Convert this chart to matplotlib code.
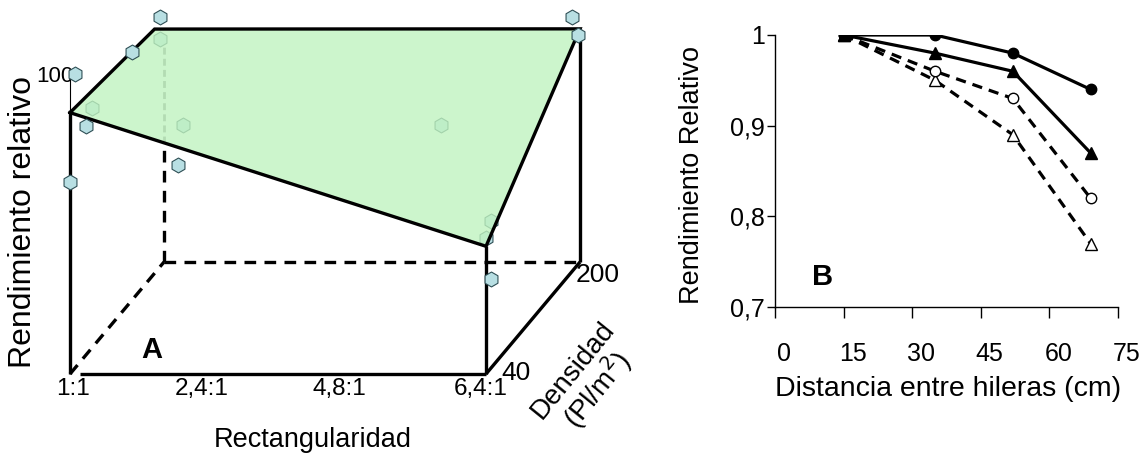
import matplotlib
matplotlib.use('Agg')
import matplotlib.pyplot as plt
from matplotlib.patches import Polygon
import matplotlib.transforms as mtransforms

plt.rcParams['font.family'] = ['Liberation Sans', 'DejaVu Sans']

# ----------------------------
# DATA
# ----------------------------
# panel A (schematic yield surface)
rect_labels = ['1:1', '2,4:1', '4,8:1', '6,4:1']
rect_frac = [0.0, 0.31, 0.64, 0.98]        # position along rectangularity axis
dens_labels = ['40', '200']
# surface corners: front-left, front-right, back-right, back-left
surf_r = [0, 1, 1, 0]
surf_d = [0, 0, 1, 0.9]
surf_yield = [88, 43, 78.5, 82.2]           # relative yield (schematic)

# editor handles visible in the original picture (pixel space)
handles_top = [(160, 17), (132, 52), (75, 74), (86, 126), (178, 165), (70, 182),
               (572, 17), (578, 35), (491, 279)]
handles_under = [(160, 39), (92, 108), (183, 125), (441, 125), (491, 221), (486, 238)]

# panel B
dist = [15, 35, 52, 69]
rr_circ_filled = [1.0, 1.0, 0.98, 0.94]
rr_tri_filled = [1.0, 0.98, 0.96, 0.87]
rr_circ_open = [1.0, 0.96, 0.93, 0.82]
rr_tri_open = [1.0, 0.95, 0.89, 0.77]
x_ticks = [0, 15, 30, 45, 60, 75]
y_ticks = [0.7, 0.8, 0.9, 1.0]
y_ticklabels = ['0,7', '0,8', '0,9', '1']

# ----------------------------
W, H = 1147, 459
fig = plt.figure(figsize=(W / 100, H / 100), dpi=100)

# ---- panel A: drawn in pixel coordinates ----
axA = fig.add_axes([0, 0, 1, 1])
axA.set_xlim(0, W)
axA.set_ylim(H, 0)
axA.axis('off')

X0, Y0 = 70, 374        # origin (1:1, 40)
RW = 416                # length of rectangularity axis
DX, DY = 94, -112       # density axis offset
PX = 2.97               # pixels per yield unit


def proj(r, d, z=0):
    return X0 + r * RW + d * DX, Y0 + d * DY - z * PX


lw = 2.4
blk = dict(color='black', lw=lw, solid_capstyle='butt')
dsh = dict(color='black', lw=lw, ls=(0, (3.5, 2.5)))

# hidden edges
p0 = proj(0, 0); p1 = proj(0, 1); p2 = proj(1, 1)
axA.plot([p0[0], p1[0]], [p0[1], p1[1]], **dsh)
axA.plot([p1[0], p2[0]], [p1[1], p2[1]], **dsh)
# dashed vertical up to front edge of surface
fl = proj(0, 0, surf_yield[0]); fr = proj(1, 0, surf_yield[1])
t = (p1[0] - fl[0]) / (fr[0] - fl[0])
y_edge = fl[1] + t * (fr[1] - fl[1])
axA.plot([p1[0], p1[0]], [p1[1], y_edge], **dsh)
axA.plot([p1[0], p1[0]], [y_edge, 40], color='0.5', lw=2, ls=(0, (2.5, 1.5)), zorder=1)

# handles under the surface
hx, hy = zip(*handles_under)
axA.scatter(hx, hy, marker='h', s=115, color='#b8dfe3', edgecolor='#2f4f55', lw=0.8, zorder=2)

# surface
corners = [proj(r, d, z) for r, d, z in zip(surf_r, surf_d, surf_yield)]
axA.add_patch(Polygon(corners, closed=True, facecolor='#c0f3c0', alpha=0.8,
                      edgecolor='none', zorder=3))
cx = [c[0] for c in corners] + [corners[0][0]]
cy = [c[1] for c in corners] + [corners[0][1]]
axA.plot(cx, cy, color='black', lw=lw, zorder=4, solid_joinstyle='miter')

# visible box edges
b_fr = proj(1, 0); b_br = proj(1, 1)
axA.plot([p0[0], fl[0]], [p0[1], fl[1]], **blk)
axA.plot([b_fr[0], fr[0]], [b_fr[1], fr[1]], **blk)
axA.plot([p0[0] + 10, b_fr[0]], [p0[1], b_fr[1]], **blk)
axA.plot([b_fr[0], b_br[0]], [b_fr[1], b_br[1]], **blk)
br_top = proj(1, 1, surf_yield[2])
axA.plot([b_br[0], br_top[0]], [b_br[1], br_top[1]], **blk)
# thin line to the "100" mark
axA.plot([X0, X0], [fl[1], 70], color='black', lw=0.8)

hx, hy = zip(*handles_top)
axA.scatter(hx, hy, marker='h', s=115, color='#b8dfe3', edgecolor='#2f4f55', lw=0.8, zorder=6)

# labels
for lab, f in zip(rect_labels, rect_frac):
    x, _ = proj(f, 0)
    axA.text(x + 3, 389, lab, ha='center', va='center', fontsize=17.5)
axA.text(proj(1, 0)[0] + 15, 373, dens_labels[0], ha='left', va='center', fontsize=19)
axA.text(proj(1, 1)[0] - 4, 275, dens_labels[1], ha='left', va='center', fontsize=19)
axA.text(313, 440, 'Rectangularidad', ha='center', va='center', fontsize=19.5)
axA.text(587, 381, 'Densidad\n(Pl/m$^2$)', ha='center', va='center', fontsize=20,
         rotation=51, multialignment='center', linespacing=1.0)
axA.text(73, 76, '100', ha='right', va='center', fontsize=16)
axA.text(23, 222, 'Rendimiento relativo', ha='center', va='center', rotation=90, fontsize=23)
axA.text(152, 350, 'A', ha='center', va='center', fontsize=21, fontweight='bold')

# ---- panel B ----
bx0, bx1 = 775, 1118
by0, by1 = 307, 35
axB = fig.add_axes([bx0 / W, 1 - by0 / H, (bx1 - bx0) / W, (by0 - by1) / H])
axB.patch.set_alpha(0)
axB.set_xlim(0, 75)
axB.set_ylim(0.7, 1.0)

lkw = dict(color='black', lw=2.3)
axB.plot(dist, rr_tri_open, ls=(0, (3.2, 2.2)), marker='^', ms=8.5, mfc='white', mec='black',
         mew=1.0, **lkw)
axB.plot(dist, rr_circ_open, ls=(0, (3.2, 2.2)), marker='o', ms=7.5, mfc='white', mec='black',
         mew=1.0, **lkw)
axB.plot(dist, rr_tri_filled, ls='-', marker='^', ms=8.5, mfc='black', mec='black', **lkw)
axB.plot(dist, rr_circ_filled, ls='-', marker='o', ms=7.5, mfc='black', mec='black', **lkw)

for s in ['top', 'right']:
    axB.spines[s].set_visible(False)
for s in ['left', 'bottom']:
    axB.spines[s].set_linewidth(1.0)
axB.spines['left'].set_bounds(0.7, 1.0)
axB.set_xticks(x_ticks)
axB.set_yticks(y_ticks)
axB.set_yticklabels(y_ticklabels)
axB.tick_params(axis='x', direction='out', length=8, width=1, pad=17, labelsize=18)
axB.tick_params(axis='y', direction='out', length=6, width=1, pad=1.5, labelsize=18)
offset = mtransforms.ScaledTranslation(9 / 100, 0, fig.dpi_scale_trans)
for lab in axB.get_xticklabels():
    lab.set_transform(lab.get_transform() + offset)
axB.set_xlabel('Distancia entre hileras (cm)', fontsize=20.5)
axB.xaxis.set_label_coords(0.504, -0.255)
axB.set_ylabel('Rendimiento Relativo', fontsize=19.5)
axB.yaxis.set_label_coords(-0.205, 0.485)
axB.text(823, 277, 'B', transform=axA.transData, ha='center', va='center',
         fontsize=21, fontweight='bold')

plt.savefig('out.png', dpi=100)
